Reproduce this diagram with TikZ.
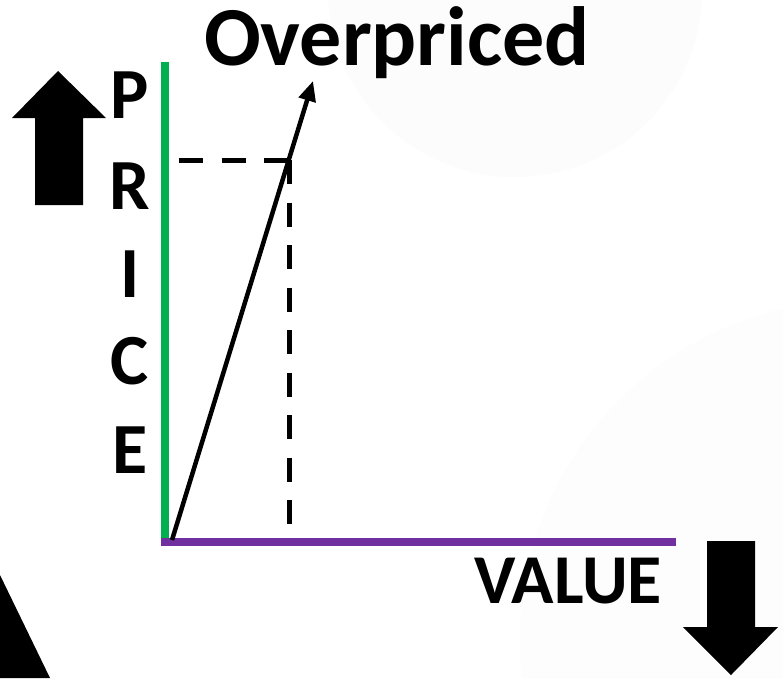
\documentclass[tikz,border=0pt]{standalone}
\usepackage{fontspec}
\setmainfont{Carlito}
\usetikzlibrary{arrows.meta}
\definecolor{axgreen}{HTML}{00B050}
\definecolor{axpurple}{HTML}{7030A0}
\definecolor{faint}{HTML}{FCFCFC}
\definecolor{fainter}{HTML}{FDFDFD}
\tikzset{
  bigtext/.style={font=\fontsize{#1}{#1}\selectfont\bfseries, inner sep=0pt, anchor=base},
  letter/.style={bigtext=72},
  dashline/.style={line width=5pt, dash pattern=on 24pt off 18.5pt},
}
\begin{document}
\begin{tikzpicture}[x=1pt,y=-1pt]
\useasboundingbox (0,0) rectangle (783,678);
\fill[white] (0,0) rectangle (783,678);
% faint background circles
\fill[fainter] (860,640) circle (340);
\fill[faint] (515,-10) circle (187);
% corner triangle
\fill[black] (0,575) -- (50,678) -- (0,678) -- cycle;
% up arrow
\fill[black] (58,71) -- (106,118) -- (83,118) -- (83,205) -- (35,205) -- (35,118) -- (12,118) -- cycle;
% down arrow
\fill[black] (707,541) -- (755,541) -- (755,627) -- (778,627) -- (731,675) -- (683,627) -- (707,627) -- cycle;
% axes
\coordinate (gtop) at (164.5,62);
\coordinate (gbot) at (164.5,542);
\coordinate (pl) at (161,542);
\coordinate (pr) at (676,542);
\draw[axgreen, line width=8pt] (gtop) -- (gbot);
\draw[axpurple, line width=8pt] (pl) -- (pr);
% dashed guides
\coordinate (hl) at (179,160);
\coordinate (corner) at (289,160);
\coordinate (vb) at (289,525);
\draw[dashline] (hl) -- (corner);
\draw[dashline] (corner) -- (vb);
% main arrow
\coordinate (o) at (172,540);
\coordinate (tip) at (313,81);
\draw[line width=4.5pt, -{Triangle[length=20pt,width=17pt]}] (o) -- (tip);
% texts
\node[bigtext=84] (title) at (397,65) {Overpriced};
\node[letter] (lP) at (130,118) {P};
\node[letter] (lR) at (130,209) {R};
\node[letter] (lI) at (130,297) {I};
\node[letter] (lC) at (130,384) {C};
\node[letter] (lE) at (130,473) {E};
\node[bigtext=70] (value) at (568,603) {VALUE};
\end{tikzpicture}
\end{document}
